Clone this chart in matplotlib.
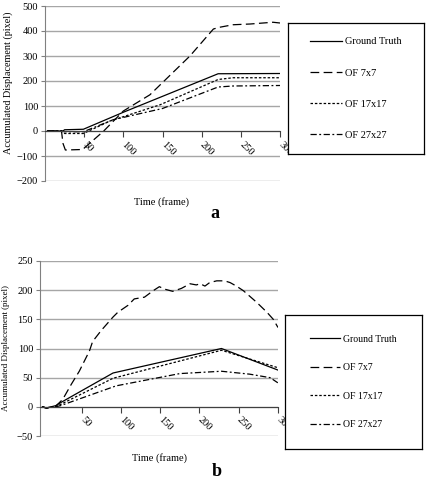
import matplotlib.pyplot as plt

plt.rcParams['font.family'] = ['Liberation Serif', 'DejaVu Serif']

# ---- data (frame, accumulated displacement in pixels) ----
labels = ["Ground Truth", "OF 7x7", "OF 17x17", "OF 27x27"]

# panel a
gt_a_x = [3, 23, 25, 49, 100, 221, 300]
gt_a_y = [0, 0, 5, 7, 75, 229, 230]
of7_a_x = [3, 21, 23, 26, 48, 75, 100, 134, 185, 215, 223, 240, 262, 291, 300]
of7_a_y = [0, 0, -50, -76, -74, 0, 80, 145, 300, 408, 415, 425, 428, 435, 432]
of17_a_x = [3, 21, 25, 49, 83, 147, 221, 240, 300]
of17_a_y = [0, 0, -10, -10, 40, 105, 206, 213, 213]
of27_a_x = [3, 21, 25, 49, 87, 150, 221, 240, 300]
of27_a_y = [0, 0, -3, -3, 45, 90, 176, 180, 182]

# panel b
gt_b_x = [0, 5, 17, 23, 90, 228, 300]
gt_b_y = [0, -2, 2, 7, 58, 100, 63]
of7_b_x = [0, 5, 17, 26, 37, 47, 60, 64, 75, 90, 96, 109, 117, 130, 141, 149, 155,
           166, 177, 188, 196, 201, 207, 213, 222, 232, 239, 247, 256, 273, 286, 294, 300]
of7_b_y = [0, -2, 1, 13, 39, 61, 96, 112, 131, 154, 162, 174, 185, 188, 199, 206, 202,
           198, 203, 211, 209, 211, 207, 213, 216, 216, 213, 207, 199, 179, 162, 150, 136]
of17_b_x = [0, 5, 17, 23, 90, 228, 300]
of17_b_y = [0, -2, 1, 4, 49, 97, 67]
of27_b_x = [0, 5, 17, 23, 94, 175, 228, 264, 290, 300]
of27_b_y = [0, -2, 0, 2, 36, 57, 61, 56, 50, 41]

xticks = [50, 100, 150, 200, 250, 300]

styles = [
    dict(linestyle="-"),
    dict(linestyle=(0, (7, 3.5))),
    dict(linestyle=(0, (2, 1.5))),
    dict(linestyle=(0, (5, 2, 1.5, 2))),
]

W, H = 427, 478
fig = plt.figure(figsize=(W / 100, H / 100), dpi=100)


def box(x0, y0, x1, y1):
    return [x0 / W, 1 - y1 / H, (x1 - x0) / W, (y1 - y0) / H]


def panel(ax, series, ylim, ystep, xlim):
    for (x, y), st in zip(series, styles):
        ax.plot(x, y, color="black", lw=0.9, **st)
    ax.set_xlim(*xlim)
    ax.set_ylim(*ylim)
    ax.set_yticks(range(ylim[0], ylim[1] + 1, ystep))
    ax.set_xticks(xticks)
    ax.set_xticklabels([str(t) for t in xticks])
    ax.grid(axis="y", color="#a6a6a6", lw=1.0)
    ax.set_axisbelow(True)
    for s in ["top", "right"]:
        ax.spines[s].set_visible(False)
    ax.spines["left"].set_color("#808080")
    ax.spines["bottom"].set_position(("data", 0))
    ax.spines["bottom"].set_color("#404040")
    ax.tick_params(axis="y", length=3, color="#808080", labelsize=7.5, pad=2)
    ax.tick_params(axis="x", length=4, color="#404040", labelsize=7.5, pad=4.5)
    plt.setp(ax.get_xticklabels(), rotation=-45, ha="left", va="center",
             rotation_mode="anchor")


def legend_box(lax, ax, fs, spacing):
    lax.set_xticks([])
    lax.set_yticks([])
    for s in lax.spines.values():
        s.set_color("black")
        s.set_linewidth(0.9)
    lax.legend(ax.get_lines(), labels, loc="center", frameon=False, fontsize=fs,
               labelspacing=spacing, handlelength=3.1, handletextpad=0.3)


ax_a = fig.add_axes(box(45, 6, 280, 181))
panel(ax_a, [(gt_a_x, gt_a_y), (of7_a_x, of7_a_y), (of17_a_x, of17_a_y),
             (of27_a_x, of27_a_y)], (-200, 500), 100, (0, 300))

ax_b = fig.add_axes(box(40, 261, 278, 436))
panel(ax_b, [(gt_b_x, gt_b_y), (of7_b_x, of7_b_y), (of17_b_x, of17_b_y),
             (of27_b_x, of27_b_y)], (-50, 250), 50, (-3, 300))

legend_box(fig.add_axes(box(288, 23, 424, 154)), ax_a, 7.5, 2.1)
legend_box(fig.add_axes(box(285, 315, 422, 449)), ax_b, 7, 2.0)

# axis titles and panel letters
fig.text(8 / W, 1 - 83 / H, "Accumulated Displacement (pixel)", rotation=90,
         ha="center", va="center", fontsize=7.3)
fig.text(6 / W, 1 - 348 / H, "Accumulated Displacement (pixel)", rotation=90,
         ha="center", va="center", fontsize=6.5)
fig.text(162 / W, 1 - 202 / H, "Time (frame)", ha="center", va="center", fontsize=7.5)
fig.text(159 / W, 1 - 458 / H, "Time (frame)", ha="center", va="center", fontsize=7.5)
fig.text(215 / W, 1 - 213 / H, "a", ha="center", va="center", fontsize=13,
         fontweight="bold")
fig.text(217 / W, 1 - 471 / H, "b", ha="center", va="center", fontsize=13,
         fontweight="bold")

fig.savefig("out.png", dpi=100)
